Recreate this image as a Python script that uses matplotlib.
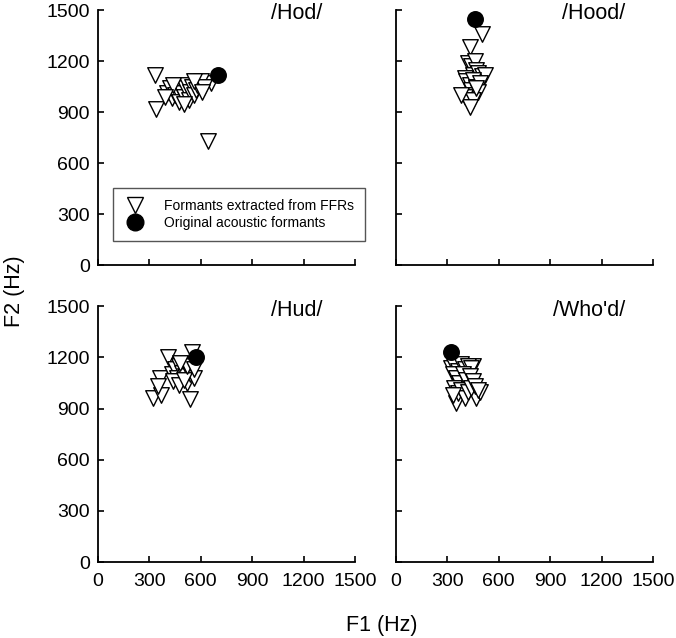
import matplotlib
matplotlib.use("Agg")
import matplotlib.pyplot as plt
from matplotlib.lines import Line2D

plt.rcParams['font.family'] = ['Liberation Sans', 'DejaVu Sans']

vowels = ["/Hod/", "/Hood/", "/Hud/", "/Who'd/"]

# Formants extracted from FFRs (F1, F2)
hod_f1 = [330, 340, 640, 660, 400, 420, 430, 450, 460, 470, 480, 490, 500, 510, 520, 530, 540, 550, 560, 570, 580, 600, 620, 440, 390, 500, 560, 610]
hod_f2 = [1120, 920, 730, 1070, 1010, 1040, 980, 1000, 1030, 960, 1050, 1010, 990, 1040, 1060, 970, 1020, 1050, 1000, 1030, 1060, 1080, 1050, 1060, 990, 950, 1080, 1020]

hood_f1 = [430, 500, 420, 440, 460, 470, 450, 480, 500, 520, 400, 410, 430, 450, 470, 490, 440, 460, 480, 400, 420, 450, 430, 470, 380]
hood_f2 = [1285, 1360, 1190, 1170, 1200, 1150, 1120, 1130, 1110, 1120, 1100, 1080, 1060, 1090, 1050, 1070, 1030, 1000, 1020, 990, 960, 970, 930, 1040, 1000]

hud_f1 = [550, 410, 320, 370, 540, 360, 350, 430, 450, 460, 470, 480, 490, 500, 510, 520, 530, 540, 550, 560, 440, 470, 500, 520, 560, 480]
hud_f2 = [1230, 1200, 960, 980, 955, 1080, 1030, 1100, 1130, 1080, 1150, 1060, 1110, 1140, 1090, 1050, 1120, 1100, 1160, 1080, 1060, 1040, 1070, 1150, 1130, 1170]

whod_f1 = [350, 470, 490, 450, 320, 340, 360, 380, 400, 420, 440, 330, 350, 370, 390, 410, 430, 450, 340, 360, 380, 400, 420, 440, 460, 480, 330]
whod_f2 = [930, 960, 1000, 1150, 1140, 1150, 1120, 1160, 1130, 1150, 1140, 1100, 1080, 1050, 1100, 1070, 1090, 1060, 1020, 990, 1010, 960, 1000, 1020, 1030, 1010, 980]

# Original acoustic formants (F1, F2)
orig_f1 = [700, 460, 575, 320]
orig_f2 = [1115, 1450, 1205, 1230]

ffr_f1 = [hod_f1, hood_f1, hud_f1, whod_f1]
ffr_f2 = [hod_f2, hood_f2, hud_f2, whod_f2]

ticks = [0, 300, 600, 900, 1200, 1500]

fig = plt.figure(figsize=(6.76, 6.38), dpi=100)
positions = [
    [0.145, 0.5846, 0.380, 0.3997],
    [0.5858, 0.5846, 0.380, 0.3997],
    [0.145, 0.119, 0.380, 0.401],
    [0.5858, 0.119, 0.380, 0.401],
]
title_x = [0.872, 0.891, 0.872, 0.891]

axes = []
for i, pos in enumerate(positions):
    ax = fig.add_axes(pos)
    axes.append(ax)
    ax.scatter(ffr_f1[i], ffr_f2[i], marker='v', s=125, facecolors='white',
               edgecolors='black', linewidths=1.0, zorder=2)
    ax.scatter([orig_f1[i]], [orig_f2[i]], marker='o', s=125, color='black', zorder=3)
    ax.set_xlim(0, 1500)
    ax.set_ylim(0, 1500)
    ax.set_xticks(ticks)
    ax.set_yticks(ticks)
    for s in ['top', 'right']:
        ax.spines[s].set_visible(False)
    for s in ['left', 'bottom']:
        ax.spines[s].set_linewidth(1.3)
    ax.tick_params(direction='in', length=4, width=1.2, labelsize=14, pad=6)
    ax.tick_params(axis='x', pad=8)
    if i in (0, 1):
        ax.tick_params(axis='x', labelbottom=False)
    if i in (1, 3):
        ax.tick_params(axis='y', labelleft=False)
    ax.text(title_x[i], 0.985, vowels[i], transform=ax.transAxes, ha='right', va='center',
            fontsize=15.5)

handles = [
    Line2D([], [], marker='v', linestyle='none', markersize=12, markerfacecolor='white',
           markeredgecolor='black', markeredgewidth=1.0),
    Line2D([], [], marker='o', linestyle='none', markersize=12, color='black'),
]
leg = axes[0].legend(handles, ["Formants extracted from FFRs", "Original acoustic formants"],
                     loc='lower left', bbox_to_anchor=(0.058, 0.094), borderaxespad=0,
                     fontsize=10, frameon=True, fancybox=False, edgecolor='#555555',
                     framealpha=1, handletextpad=1.3, borderpad=0.8, labelspacing=0.2,
                     handlelength=1.6)
leg.get_frame().set_linewidth(1.0)

fig.text(0.565, 0.019, "F1 (Hz)", ha='center', va='center', fontsize=15.5)
fig.text(0.022, 0.544, "F2 (Hz)", ha='center', va='center', rotation=90, fontsize=15.5)

fig.savefig("out.png", dpi=100)
